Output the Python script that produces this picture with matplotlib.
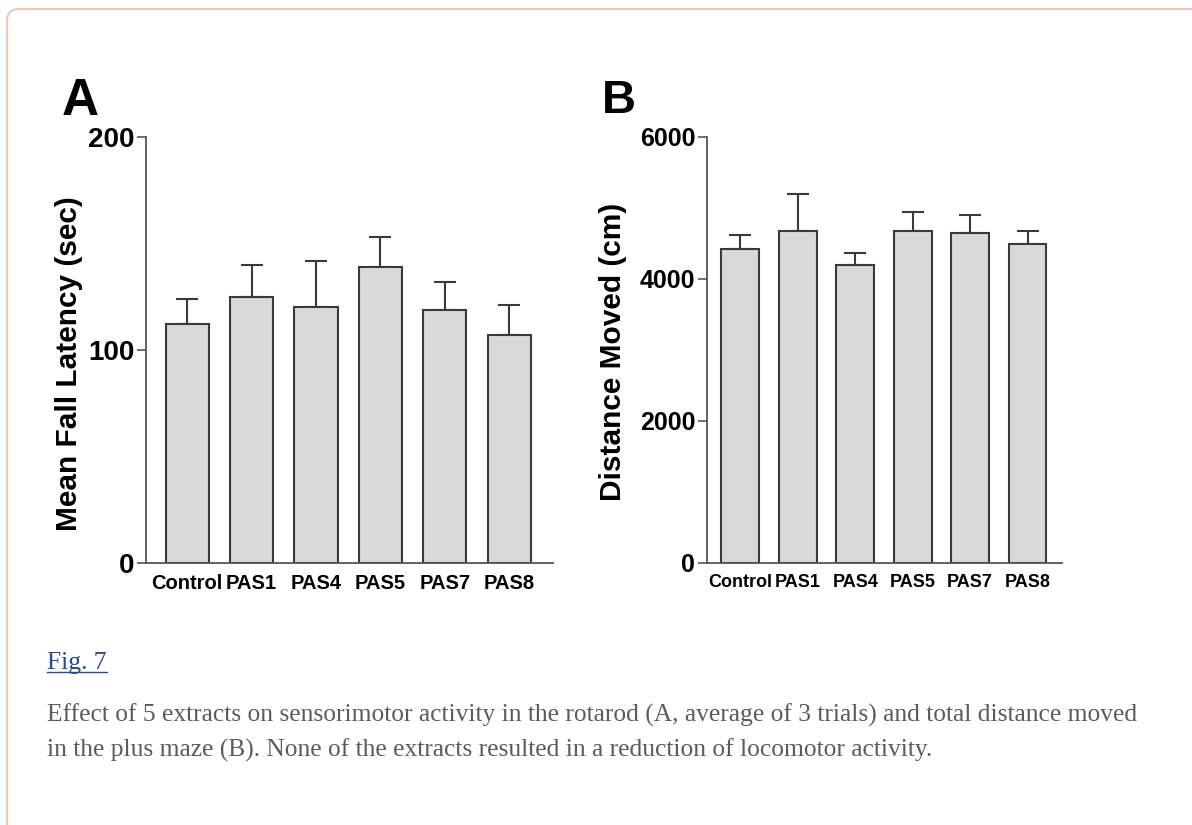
#!/usr/bin/env python3
"""Fig. 7: rotarod fall latency (A) and plus-maze distance moved (B)."""

import matplotlib
matplotlib.use('Agg')
import matplotlib.pyplot as plt
from matplotlib.patches import FancyBboxPatch
from matplotlib.lines import Line2D
from matplotlib.transforms import IdentityTransform

# Data
groups = ['Control', 'PAS1', 'PAS4', 'PAS5', 'PAS7', 'PAS8']
latency = [112, 125, 120, 139, 119, 107]
latency_sem = [12, 15, 22, 14, 13, 14]
distance = [4420, 4680, 4195, 4680, 4650, 4490]
distance_sem = [205, 520, 170, 268, 250, 184]

W, H = 1192, 825
fig = plt.figure(figsize=(W / 100, H / 100), dpi=100)
fig.patch.set_facecolor('white')

sans = ['Liberation Sans', 'DejaVu Sans']
serif = ['Liberation Serif', 'DejaVu Serif']

bar_face = '#d9d9d9'
bar_edge = '#3a3a3a'
axis_col = '#555555'


def px_axes(left, right, bottom, top):
    # pixel box (top-left origin) -> figure fractions
    return [left / W, 1 - bottom / H, (right - left) / W, (bottom - top) / H]


def panel(ax, values, errs, ymax, yticks, ylabel, xlim, width, label_x, label_y,
          ytick_size, xtick_size):
    x = list(range(len(groups)))
    ax.bar(x, values, width, color=bar_face, edgecolor=bar_edge, linewidth=1.5, zorder=2)
    ax.errorbar(x, values, yerr=[[0] * len(errs), errs], fmt='none', ecolor=bar_edge,
                elinewidth=1.5, capsize=8, capthick=1.5, zorder=1)
    ax.set_xlim(*xlim)
    ax.set_ylim(0, ymax)
    ax.set_yticks(yticks)
    ax.set_yticklabels([str(t) for t in yticks], fontfamily=sans, fontweight='bold',
                       fontsize=ytick_size)
    ax.set_xticks(x)
    ax.set_xticklabels(groups, fontfamily=sans, fontweight='bold', fontsize=xtick_size)
    ax.tick_params(axis='x', length=0, pad=8)
    ax.tick_params(axis='y', length=6.5, width=1.2, color=axis_col, pad=2)
    for s in ['top', 'right']:
        ax.spines[s].set_visible(False)
    for s in ['left', 'bottom']:
        ax.spines[s].set_color(axis_col)
        ax.spines[s].set_linewidth(1.3)
    ax.set_facecolor('none')
    ax.text(label_x, label_y, ylabel, transform=ax.transAxes, rotation=90,
            ha='center', va='center', fontfamily=sans, fontweight='bold', fontsize=21.5)


axA = fig.add_axes(px_axes(146, 553, 563, 137))
panel(axA, latency, latency_sem, 200, [0, 100, 200], 'Mean Fall Latency (sec)',
      (-0.64, 5.68), 0.67, (69 - 146) / 407, (563 - 364) / 426, 20, 14.5)

axB = fig.add_axes(px_axes(707, 1062, 563, 137))
panel(axB, distance, distance_sem, 6000, [0, 2000, 4000, 6000], 'Distance Moved (cm)',
      (-0.58, 5.6), 0.66, (613 - 707) / 355, (563 - 352) / 426, 18, 13)

# Panel letters
fig.text(62 / W, 1 - 115 / H, 'A', fontfamily=sans, fontweight='bold', fontsize=37,
         ha='left', va='baseline')
fig.text(602 / W, 1 - 113 / H, 'B', fontfamily=sans, fontweight='bold', fontsize=34,
         ha='left', va='baseline')

# Caption
fig_lbl = fig.text(47 / W, 1 - 669 / H, 'Fig. 7', fontfamily=serif, fontsize=18.4,
                   color='#2c4a8e', ha='left', va='baseline')
fig.text(47 / W, 1 - 722 / H,
         'Effect of 5 extracts on sensorimotor activity in the rotarod (A, average of 3 trials) and total distance moved',
         fontfamily=serif, fontsize=18.4, color='#5c5c5c', ha='left', va='baseline')
fig.text(47 / W, 1 - 757 / H,
         'in the plus maze (B). None of the extracts resulted in a reduction of locomotor activity.',
         fontfamily=serif, fontsize=18.4, color='#5c5c5c', ha='left', va='baseline')

# underline for the figure link
fig.canvas.draw()
bb = fig_lbl.get_window_extent()
ul_y = H - 672
fig.add_artist(Line2D([bb.x0, bb.x1], [ul_y, ul_y], color='#2c4a8e', linewidth=1.0,
                      transform=IdentityTransform()))

# rounded frame around the figure block (runs off right and bottom edges)
frame = FancyBboxPatch((7, -40), W + 40, H - 9 + 40,
                       boxstyle='round,pad=0,rounding_size=12',
                       facecolor='none', edgecolor='#efc6b2', linewidth=1.5,
                       transform=IdentityTransform())
fig.add_artist(frame)

plt.savefig('out.png', dpi=100)
plt.close()
print("Saved: out.png")
